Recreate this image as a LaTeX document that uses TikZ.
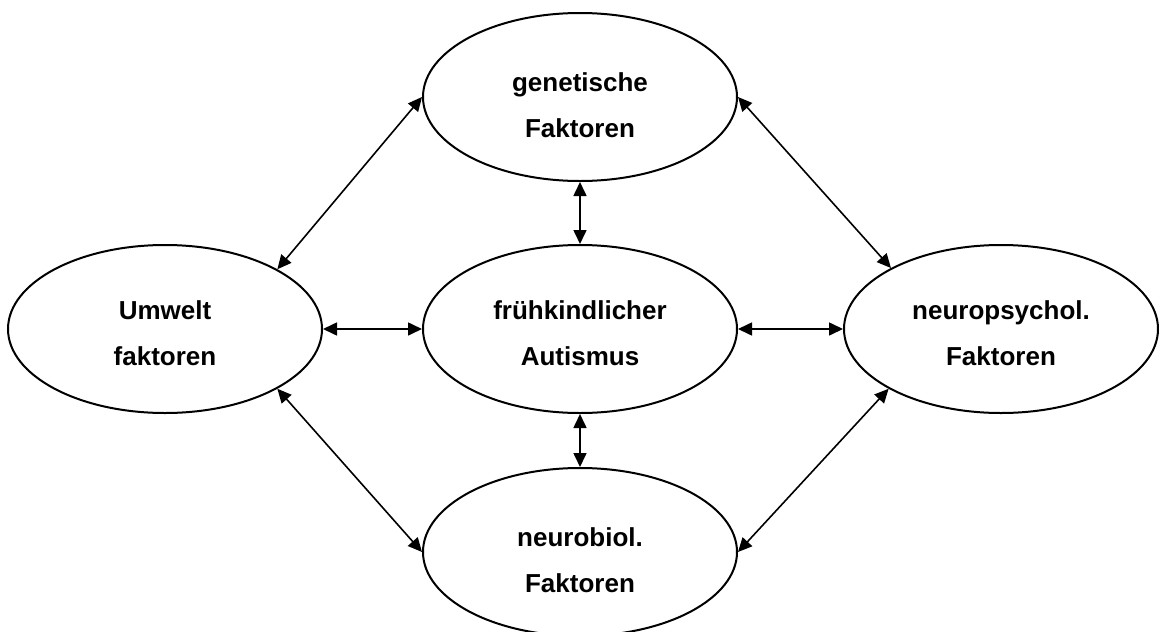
\documentclass[tikz,border=0pt]{standalone}
\usepackage{fontspec}
\setmainfont{Liberation Sans}
\usepackage{tikz}
\usetikzlibrary{shapes.geometric,arrows.meta}

\begin{document}
\begin{tikzpicture}[
        x=0.5pt, y=-0.5pt,
        factor/.style={ellipse, draw, line width=1pt, inner sep=0pt,
            minimum width=157pt, minimum height=84pt, align=center,
            font=\bfseries\fontsize{13}{23}\selectfont, text height=#1},
        factor/.default=37pt,
        link/.style={line width=0.8pt, {Triangle[length=7pt,width=6.5pt]}-{Triangle[length=7pt,width=6.5pt]}}
    ]

    \useasboundingbox (0,0) rectangle (1163,632) ;

    \node[factor=41pt] (gen)    at (580,97)  {genetische\\Faktoren} ;
    \node[factor]      (autism) at (580,329) {frühkindlicher\\Autismus} ;
    \node[factor]      (env)    at (165,329) {Umwelt\\faktoren} ;
    \node[factor]      (psych)  at (1001,329) {neuropsychol.\\Faktoren} ;
    \node[factor=41pt] (bio)    at (580,552) {neurobiol.\\Faktoren} ;

    % links to the centre
    \draw[link] (gen.south) -- (autism.north) ;
    \draw[link] (autism.south) -- (bio.north) ;
    \draw[link] (env.east) -- (autism.west) ;
    \draw[link] (autism.east) -- (psych.west) ;

    % outer ring
    \draw[link] (env.28) -- (gen.west) ;
    \draw[link] (gen.east) -- (psych.151) ;
    \draw[link] (env.-28) -- (bio.west) ;
    \draw[link] (bio.east) -- (psych.-152) ;

\end{tikzpicture}
\end{document}
